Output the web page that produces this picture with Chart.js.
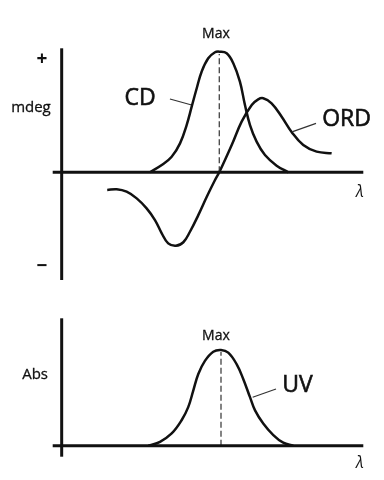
<!DOCTYPE html>
<html><head><meta charset="utf-8">
<script src="https://cdn.jsdelivr.net/npm/chart.js@4.4.1/dist/chart.umd.min.js"></script>
<style>
html,body{margin:0;padding:0;background:#fff;}
#wrap{position:relative;width:384px;height:480px;overflow:hidden;background:#fff;}
#topChart{position:absolute;left:0;top:0;width:384px;height:300px;}
#botChart{position:absolute;left:0;top:300px;width:384px;height:180px;}
</style></head><body>
<div id="wrap">
<canvas id="topChart" width="384" height="300"></canvas>
<canvas id="botChart" width="384" height="180"></canvas>
</div>
<script>
// ---- data (arbitrary wavelength units; Max at λ = 100) ----
const cdLambda = [56.0, 63.5, 69.8, 75.1, 79.3, 82.5, 85.7, 88.8, 93.0, 97.3, 100, 104.7, 108.9, 113.1, 116.3, 119.5, 123.7, 129.0, 136.4, 143.8];
const cdValues = [0, 0.06, 0.129, 0.240, 0.392, 0.544, 0.697, 0.834, 0.945, 0.995, 1.0, 0.987, 0.904, 0.751, 0.558, 0.392, 0.254, 0.143, 0.055, 0];

const ordLambda = [28.9, 34.9, 41.2, 47.6, 53.9, 59.2, 63.5, 67.6, 72.5, 77.2, 81.4, 86.7, 92.0, 97.3, 100, 107.9, 114.2, 120.6, 124.7, 127.9, 133.2, 139.6, 145.9, 153.3, 161.8, 171.3];
const ordValues = [-0.147, -0.141, -0.161, -0.216, -0.299, -0.396, -0.506, -0.589, -0.609, -0.580, -0.493, -0.355, -0.205, -0.064, 0, 0.226, 0.420, 0.558, 0.605, 0.614, 0.572, 0.461, 0.335, 0.226, 0.171, 0.158];

const uvLambda = [55.0, 62.4, 69.8, 76.1, 80.3, 83.5, 86.7, 90.9, 96.2, 101.1, 105.7, 111.0, 115.2, 119.5, 122.7, 127.9, 134.3, 140.6, 147.0];
const uvValues = [0, 0.041, 0.128, 0.266, 0.403, 0.576, 0.749, 0.886, 0.982, 1.0, 0.972, 0.852, 0.697, 0.507, 0.369, 0.232, 0.111, 0.031, 0];

const cdMaxLambda = 100;
const uvMaxLambda = 101.1;

// axis extents
const topLambdaRange = [-5.7, 191.4];
const topMdegRange = [-0.893, 1.028];
const botLambdaRange = [-5.7, 191.4];
const botAbsRange = [-0.115, 1.331];

const FONT = '"Open Sans", "Noto Sans", sans-serif';
const INK = '#111';

function pts(xs, ys){ return xs.map((x,i)=>({x:x, y:ys[i]})); }
function straight(data, width, dash, color){
  return {data:data, borderColor:color||INK, borderWidth:width, borderDash:dash||[],
    tension:0, cubicInterpolationMode:'default', pointRadius:0, clip:false, fill:false};
}
function curve(data){
  return {data:data, borderColor:INK, borderWidth:2.5, tension:0.4,
    cubicInterpolationMode:'default', pointRadius:0, clip:false, fill:false};
}
function textPlugin(items){
  return {
    id:'texts',
    afterDatasetsDraw(chart){
      const ctx = chart.ctx, xs = chart.scales.x, ys = chart.scales.y;
      ctx.save();
      items.forEach(t=>{
        ctx.font = t.font;
        ctx.fillStyle = INK;
        ctx.strokeStyle = INK;
        ctx.textAlign = 'center';
        ctx.textBaseline = 'middle';
        const px = xs.getPixelForValue(t.x), py = ys.getPixelForValue(t.y);
        ctx.fillText(t.text, px, py);
        if (t.stroke) { ctx.lineWidth = t.stroke; ctx.strokeText(t.text, px, py); }
      });
      ctx.restore();
    }
  };
}
function baseOptions(xr, yr, pad){
  return {
    responsive:false, animation:false, events:[],
    layout:{padding:pad},
    plugins:{legend:{display:false}, tooltip:{enabled:false}},
    scales:{
      x:{type:'linear', display:false, min:xr[0], max:xr[1]},
      y:{type:'linear', display:false, min:yr[0], max:yr[1]}
    }
  };
}

// ---- top chart: CD and ORD ----
new Chart(document.getElementById('topChart'), {
  type:'line',
  data:{datasets:[
    straight([{x:topLambdaRange[0], y:0},{x:topLambdaRange[1], y:0}], 3),
    straight([{x:0, y:topMdegRange[0]},{x:0, y:topMdegRange[1]}], 3),
    straight([{x:cdMaxLambda, y:0},{x:cdMaxLambda, y:0.98}], 1.2, [6,3], '#333'),
    curve(pts(cdLambda, cdValues)),
    curve(pts(ordLambda, ordValues)),
    straight([{x:68.7, y:0.608},{x:82.5, y:0.558}], 1.2, [], '#333'),
    straight([{x:161.4, y:0.406},{x:146.6, y:0.337}], 1.2, [], '#333')
  ]},
  options:baseOptions(topLambdaRange, topMdegRange, {left:52.7, right:20.7, top:48.3, bottom:20}),
  plugins:[textPlugin([
    {text:'Max', x:97.9, y:1.147, font:'14px '+FONT, stroke:0.3},
    {text:'+', x:-12.5, y:0.931, font:'bold 19px '+FONT},
    {text:'mdeg', x:-19.5, y:0.533, font:'15px '+FONT, stroke:0.3},
    {text:'\u2212', x:-12.5, y:-0.783, font:'bold 19px '+FONT},
    {text:'CD', x:49.7, y:0.614, font:'23px '+FONT, stroke:0.6},
    {text:'ORD', x:180.8, y:0.442, font:'23px '+FONT, stroke:0.6},
    {text:'\u03BB', x:189.3, y:-0.167, font:'italic 16px '+FONT}
  ])]
});

// ---- bottom chart: UV ----
new Chart(document.getElementById('botChart'), {
  type:'line',
  data:{datasets:[
    straight([{x:botLambdaRange[0], y:0},{x:botLambdaRange[1], y:0}], 3),
    straight([{x:0, y:botAbsRange[0]},{x:0, y:botAbsRange[1]}], 3),
    straight([{x:uvMaxLambda, y:0},{x:uvMaxLambda, y:0.98}], 1.2, [6,3], '#333'),
    curve(pts(uvLambda, uvValues)),
    straight([{x:136.0, y:0.592},{x:121.2, y:0.506}], 1.2, [], '#333')
  ]},
  options:baseOptions(botLambdaRange, botAbsRange, {left:52.7, right:20.7, top:18.3, bottom:23.3}),
  plugins:[textPlugin([
    {text:'Max', x:97.9, y:1.146, font:'14px '+FONT, stroke:0.3},
    {text:'Abs', x:-16.9, y:0.744, font:'15px '+FONT, stroke:0.3},
    {text:'UV', x:149.6, y:0.634, font:'23px '+FONT, stroke:0.6},
    {text:'\u03BB', x:189.3, y:-0.184, font:'italic 16px '+FONT}
  ])]
});
</script>
</body></html>
